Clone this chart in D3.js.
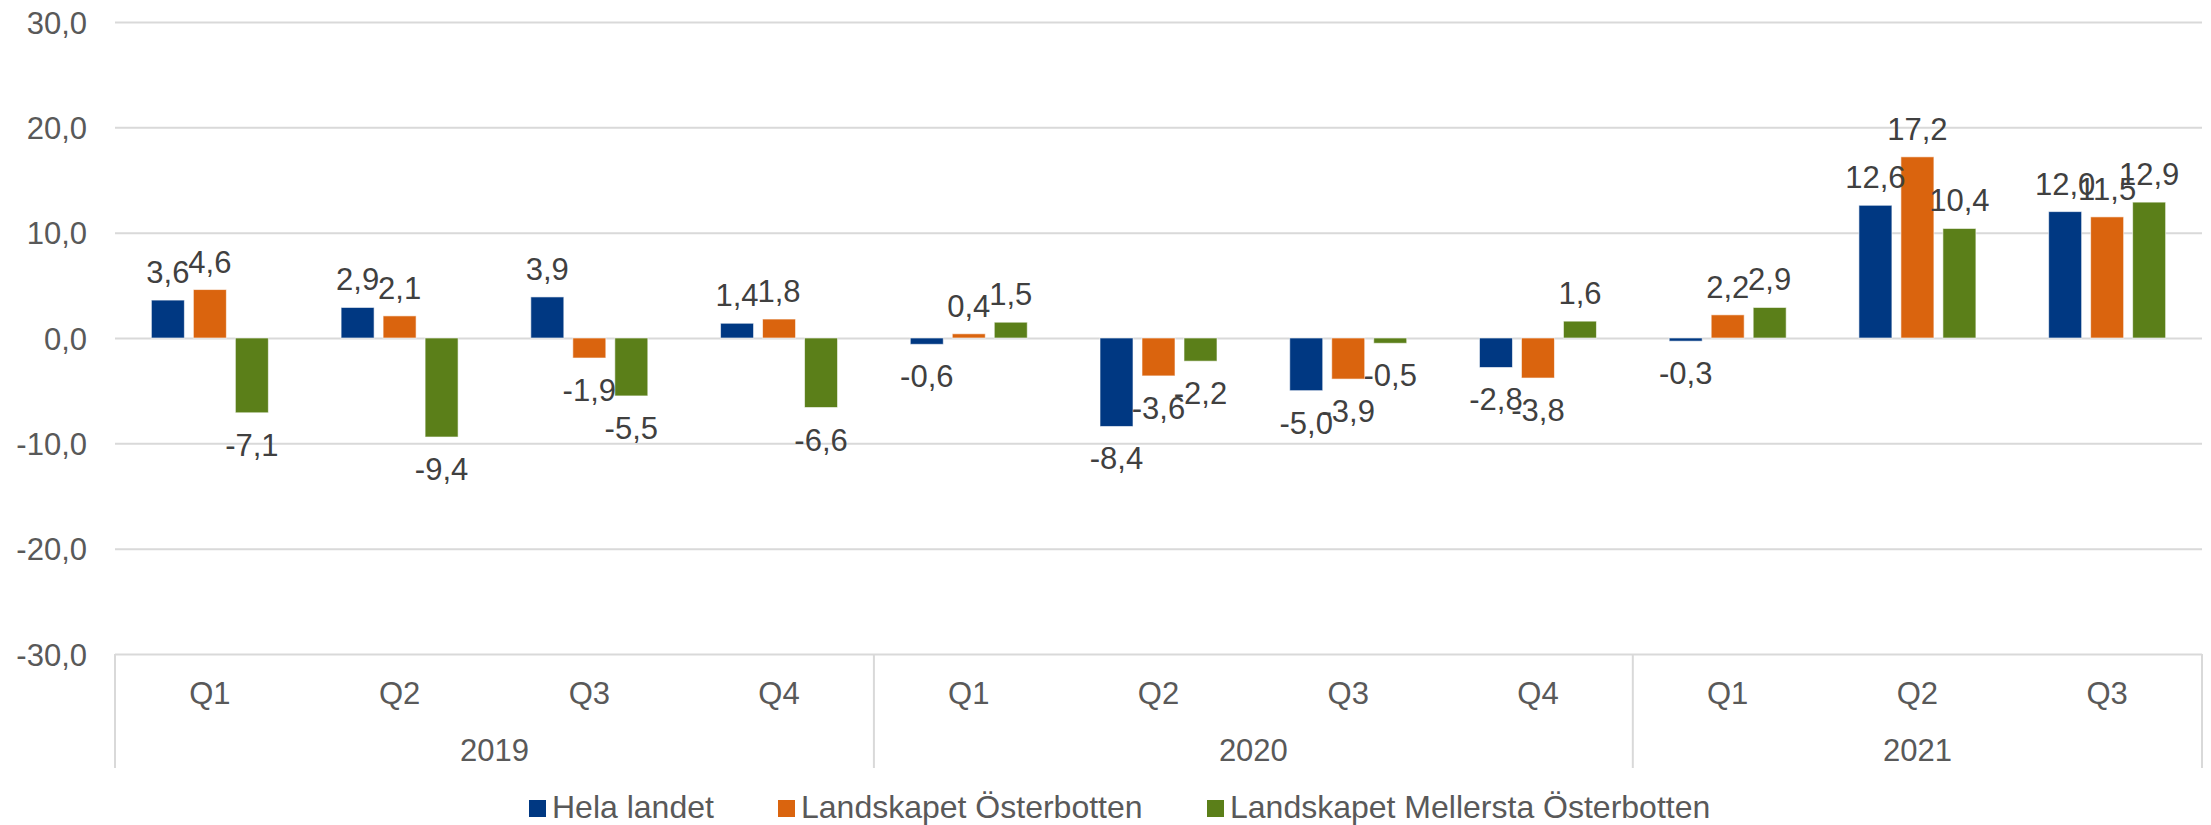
<!DOCTYPE html>
<html>
<head>
<meta charset="utf-8">
<script src="https://cdn.jsdelivr.net/npm/d3@7"></script>
<style>
  body { margin: 0; background: #fff; }
  svg { display: block; font-family: "Liberation Sans", Arial, sans-serif; }
</style>
</head>
<body>
<svg id="chart"></svg>
<script>
// ---- data ----
const years = ["2019", "2020", "2021"];
const quarters = [["Q1", "Q2", "Q3", "Q4"], ["Q1", "Q2", "Q3", "Q4"], ["Q1", "Q2", "Q3"]];
const seriesNames = ["Hela landet", "Landskapet Österbotten", "Landskapet Mellersta Österbotten"];
const helaLandet = [3.6, 2.9, 3.9, 1.4, -0.6, -8.4, -5.0, -2.8, -0.3, 12.6, 12.0];
const osterbotten = [4.6, 2.1, -1.9, 1.8, 0.4, -3.6, -3.9, -3.8, 2.2, 17.2, 11.5];
const mellersta = [-7.1, -9.4, -5.5, -6.6, 1.5, -2.2, -0.5, 1.6, 2.9, 10.4, 12.9];
const yTicks = [-30, -20, -10, 0, 10, 20, 30];
const colors = ["#003882", "#da640e", "#5b7f19"];

const W = 2211, H = 825;
const plot = { left: 115, right: 2202, top: 22, bottom: 654 };

const svg = d3.select("#chart").attr("width", W).attr("height", H);

// categories flattened
const cats = [];
years.forEach((yr, yi) => quarters[yi].forEach(q => cats.push({ key: yr + "-" + q, year: yr, q: q })));
const rows = cats.map((c, i) => ({ ...c, values: [helaLandet[i], osterbotten[i], mellersta[i]] }));

const x = d3.scaleBand().domain(cats.map(c => c.key)).range([plot.left, plot.right]).padding(0);
const inner = d3.scaleBand().domain([0, 1, 2]).range([-58.5, 58.5]).paddingInner(0.214).paddingOuter(0);
const y = d3.scaleLinear().domain([-30, 30]).range([plot.bottom, plot.top]);

const loc = d3.formatLocale({ decimal: ",", thousands: " ", grouping: [3], currency: ["", ""], minus: "-" });
const fmt = loc.format(".1f");

// y axis + gridlines
const yAxis = svg.append("g")
  .attr("transform", `translate(${plot.left},0)`)
  .call(d3.axisLeft(y).tickValues(yTicks).tickSize(-(plot.right - plot.left)).tickPadding(28).tickFormat(fmt));
yAxis.select(".domain").remove();
yAxis.selectAll(".tick line").attr("stroke", "#d9d9d9").attr("stroke-width", 2);
yAxis.selectAll(".tick text").attr("fill", "#595959").style("font-size", "31px").attr("dy", "0.36em");

// bars
const groups = svg.append("g").selectAll("g")
  .data(rows).join("g")
  .attr("transform", d => `translate(${x(d.key) + x.bandwidth() / 2},0)`);

groups.selectAll("rect")
  .data(d => d.values.map((v, i) => ({ v, i })))
  .join("rect")
  .attr("x", d => inner(d.i))
  .attr("width", inner.bandwidth())
  .attr("y", d => y(Math.max(0, d.v)))
  .attr("height", d => Math.abs(y(d.v) - y(0)))
  .attr("fill", d => colors[d.i])
  .attr("stroke", "#fff")
  .attr("stroke-opacity", 0.6)
  .attr("stroke-width", 1);

groups.selectAll("text")
  .data(d => d.values.map((v, i) => ({ v, i })))
  .join("text")
  .attr("x", d => inner(d.i) + inner.bandwidth() / 2)
  .attr("y", d => d.v >= 0 ? y(d.v) - 17 : y(d.v) + 43)
  .attr("text-anchor", "middle")
  .attr("fill", "#404040")
  .style("font-size", "31px")
  .text(d => fmt(d.v));

// x axis: quarter labels
const xAxis = svg.append("g")
  .attr("transform", `translate(0,${plot.bottom})`)
  .call(d3.axisBottom(x).tickSize(0).tickPadding(0).tickFormat(k => k.split("-")[1]));
xAxis.select(".domain").remove();
xAxis.selectAll(".tick text").attr("fill", "#595959").style("font-size", "31px")
  .attr("y", 50).attr("dy", 0);

// year groups: dividers and labels
const yearSpans = years.map(yr => {
  const ks = cats.filter(c => c.year === yr).map(c => c.key);
  return { year: yr, x0: x(ks[0]), x1: x(ks[ks.length - 1]) + x.bandwidth() };
});
const edges = [yearSpans[0].x0, ...yearSpans.map(s => s.x1)];
svg.append("g").selectAll("line")
  .data(edges).join("line")
  .attr("x1", d => d).attr("x2", d => d)
  .attr("y1", plot.bottom).attr("y2", 768)
  .attr("stroke", "#d9d9d9").attr("stroke-width", 2);

svg.append("g").selectAll("text")
  .data(yearSpans).join("text")
  .attr("x", d => (d.x0 + d.x1) / 2)
  .attr("y", 761)
  .attr("text-anchor", "middle")
  .attr("fill", "#595959")
  .style("font-size", "31px")
  .text(d => d.year);

// legend
const legendX = [529, 778, 1207];
const legend = svg.append("g").selectAll("g")
  .data(seriesNames).join("g")
  .attr("transform", (d, i) => `translate(${legendX[i]},800)`);
legend.append("rect").attr("width", 17).attr("height", 17).attr("fill", (d, i) => colors[i]);
legend.append("text").attr("x", 23).attr("y", 18)
  .attr("fill", "#595959").style("font-size", "32px").text(d => d);
</script>
</body>
</html>
